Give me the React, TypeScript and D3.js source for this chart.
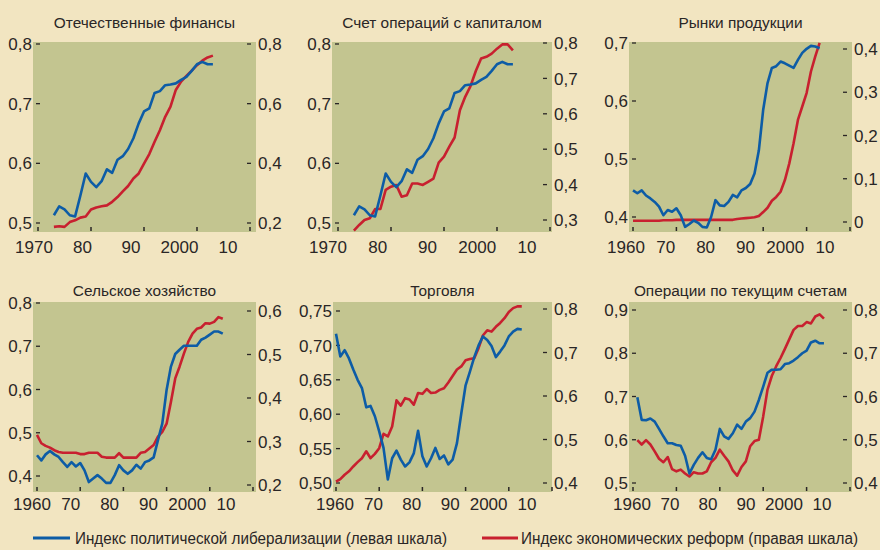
import * as d3 from "d3";

// ── данные: индексы по годам ──
const YEARS_73 = d3.range(1973, 2004);
const YEARS_60 = d3.range(1960, 2004);
const YEARS_61 = d3.range(1961, 2005);

// политическая либерализация (одна и та же серия в двух верхних левых панелях)
const POL_FIN = [
  0.513, 0.528, 0.523, 0.513, 0.511, 0.546, 0.583, 0.569, 0.560, 0.570,
  0.590, 0.584, 0.606, 0.612, 0.624, 0.642, 0.667, 0.687, 0.692, 0.718,
  0.721, 0.731, 0.732, 0.734, 0.740, 0.745, 0.755, 0.766, 0.770, 0.766, 0.766
];
const ECON_FIN = [
  0.187, 0.189, 0.187, 0.203, 0.209, 0.218, 0.222, 0.245, 0.252, 0.256,
  0.259, 0.271, 0.287, 0.306, 0.324, 0.349, 0.366, 0.399, 0.431, 0.472,
  0.511, 0.556, 0.590, 0.646, 0.674, 0.693, 0.711, 0.729, 0.744, 0.755, 0.761
];
const ECON_CAP = [
  0.270, 0.286, 0.300, 0.305, 0.331, 0.331, 0.385, 0.394, 0.399, 0.366,
  0.370, 0.403, 0.403, 0.399, 0.408, 0.417, 0.462, 0.479, 0.507, 0.533,
  0.610, 0.648, 0.678, 0.721, 0.756, 0.761, 0.770, 0.784, 0.796, 0.796, 0.779
];
const POL_PROD = [
  0.446, 0.441, 0.446, 0.437, 0.432, 0.426, 0.418, 0.403, 0.412, 0.409,
  0.415, 0.403, 0.383, 0.388, 0.394, 0.390, 0.383, 0.382, 0.400, 0.429,
  0.420, 0.419, 0.426, 0.438, 0.434, 0.446, 0.450, 0.457, 0.475, 0.515,
  0.585, 0.631, 0.657, 0.660, 0.668, 0.665, 0.661, 0.657, 0.671, 0.683,
  0.690, 0.695, 0.694, 0.691
];
const ECON_PROD = [
  0.003, 0.003, 0.003, 0.003, 0.003, 0.003, 0.003, 0.004, 0.004, 0.004,
  0.005, 0.005, 0.005, 0.005, 0.005, 0.005, 0.005, 0.005, 0.005, 0.005,
  0.005, 0.005, 0.005, 0.005, 0.007, 0.008, 0.009, 0.010, 0.011, 0.014,
  0.023, 0.033, 0.049, 0.058, 0.070, 0.097, 0.135, 0.182, 0.236, 0.267,
  0.298, 0.348, 0.383, 0.414
];
const POL_AGR = [
  0.448, 0.436, 0.450, 0.458, 0.450, 0.444, 0.432, 0.421, 0.432, 0.422,
  0.430, 0.413, 0.386, 0.394, 0.402, 0.394, 0.384, 0.384, 0.402, 0.425,
  0.413, 0.405, 0.413, 0.426, 0.417, 0.432, 0.436, 0.443, 0.483, 0.521,
  0.599, 0.653, 0.682, 0.692, 0.701, 0.701, 0.701, 0.701, 0.715, 0.720,
  0.727, 0.734, 0.734, 0.729
];
const ECON_AGR = [
  0.315, 0.296, 0.290, 0.286, 0.280, 0.276, 0.274, 0.274, 0.274, 0.274,
  0.271, 0.271, 0.274, 0.274, 0.274, 0.265, 0.263, 0.263, 0.263, 0.273,
  0.263, 0.263, 0.263, 0.263, 0.274, 0.276, 0.284, 0.292, 0.311, 0.322,
  0.341, 0.391, 0.445, 0.472, 0.502, 0.529, 0.548, 0.559, 0.562, 0.572,
  0.571, 0.575, 0.586, 0.582
];
const POL_TRADE = [
  0.717, 0.684, 0.693, 0.681, 0.665, 0.650, 0.638, 0.610, 0.612, 0.597,
  0.575, 0.551, 0.505, 0.536, 0.547, 0.534, 0.524, 0.530, 0.543, 0.576,
  0.539, 0.524, 0.536, 0.551, 0.535, 0.540, 0.527, 0.534, 0.558, 0.601,
  0.642, 0.662, 0.683, 0.700, 0.713, 0.708, 0.699, 0.683, 0.691, 0.700,
  0.713, 0.720, 0.724, 0.723
];
const ECON_TRADE = [
  0.403, 0.409, 0.419, 0.427, 0.438, 0.448, 0.457, 0.473, 0.457, 0.467,
  0.480, 0.513, 0.507, 0.530, 0.590, 0.578, 0.595, 0.592, 0.580, 0.607,
  0.605, 0.616, 0.607, 0.608, 0.614, 0.618, 0.631, 0.646, 0.661, 0.668,
  0.682, 0.685, 0.687, 0.710, 0.739, 0.751, 0.748, 0.759, 0.768, 0.779,
  0.793, 0.802, 0.806, 0.806
];
const POL_CUR = [
  0.698, 0.646, 0.645, 0.649, 0.642, 0.625, 0.608, 0.592, 0.592, 0.588,
  0.586, 0.563, 0.522, 0.542, 0.558, 0.571, 0.558, 0.555, 0.577, 0.625,
  0.608, 0.602, 0.615, 0.635, 0.625, 0.642, 0.650, 0.665, 0.692, 0.723,
  0.755, 0.762, 0.762, 0.763, 0.775, 0.777, 0.783, 0.791, 0.800, 0.806,
  0.825, 0.829, 0.823, 0.823
];
const ECON_CUR = [
  0.499, 0.489, 0.499, 0.489, 0.473, 0.456, 0.448, 0.460, 0.432, 0.427,
  0.431, 0.422, 0.415, 0.425, 0.422, 0.422, 0.427, 0.448, 0.458, 0.477,
  0.463, 0.450, 0.429, 0.417, 0.437, 0.450, 0.485, 0.497, 0.500, 0.554,
  0.616, 0.648, 0.670, 0.689, 0.710, 0.732, 0.754, 0.763, 0.763, 0.772,
  0.769, 0.785, 0.790, 0.780
];

const TICKS_70 = [1970, 1980, 1990, 2000, 2010];
const TICKS_60 = [1960, 1970, 1980, 1990, 2000, 2010];
const TICK_LABELS_70 = ["1970", "80", "90", "2000", "10"];
const TICK_LABELS_60 = ["1960", "70", "80", "90", "2000", "10"];

const TITLES = [
  "Отечественные финансы",
  "Счет операций с капиталом",
  "Рынки продукции",
  "Сельское хозяйство",
  "Торговля",
  "Операции по текущим счетам"
];
const LEGEND = [
  "Индекс политической либерализации (левая шкала)",
  "Индекс экономических реформ (правая шкала)"
];

const BG = "#f2e5c1";
const PLOT_BG = "#c3c590";
const BLUE = "#0d5ca6";
const RED = "#c8202f";
const INK = "#2a2626";
const FONT = "'Liberation Sans', Arial, sans-serif";
const NARROW = "'Liberation Sans Narrow', 'Arial Narrow', 'Liberation Sans', sans-serif";

interface PanelCfg {
  title: string;
  x: number; y: number; w: number; h: number;
  titleY: number;
  labelY: number;
  years: number[];
  pol: number[];
  econ: number[];
  ticks: number[];
  tickLabels: string[];
  xr: [number, number];       // позиции крайних рисок
  xl: [number, number];       // позиции крайних подписей
  left: number[];  leftR: [number, number];
  right: number[]; rightR: [number, number];
  leftFmt: string;
}

const PANELS: PanelCfg[] = [
  {
    title: TITLES[0], x: 33, y: 42, w: 223, h: 190, titleY: 28, labelY: 21,
    years: YEARS_73, pol: POL_FIN, econ: ECON_FIN,
    ticks: TICKS_70, tickLabels: TICK_LABELS_70, xr: [5, 217], xl: [1, 195],
    left: [0.5, 0.6, 0.7, 0.8], leftR: [181, 2],
    right: [0.2, 0.4, 0.6, 0.8], rightR: [181, 2], leftFmt: ".1f"
  },
  {
    title: TITLES[1], x: 332, y: 42, w: 220, h: 190, titleY: 28, labelY: 21,
    years: YEARS_73, pol: POL_FIN, econ: ECON_CAP,
    ticks: TICKS_70, tickLabels: TICK_LABELS_70, xr: [6, 218], xl: [-4, 195],
    left: [0.5, 0.6, 0.7, 0.8], leftR: [181, 2],
    right: [0.3, 0.4, 0.5, 0.6, 0.7, 0.8], rightR: [178, 1], leftFmt: ".1f"
  },
  {
    title: TITLES[2], x: 629, y: 42, w: 223, h: 190, titleY: 28, labelY: 21,
    years: YEARS_60, pol: POL_PROD, econ: ECON_PROD,
    ticks: TICKS_60, tickLabels: TICK_LABELS_60, xr: [4, 221], xl: [-3, 196],
    left: [0.4, 0.5, 0.6, 0.7], leftR: [175, 1],
    right: [0, 0.1, 0.2, 0.3, 0.4], rightR: [180, 7], leftFmt: ".1f"
  },
  {
    title: TITLES[3], x: 33, y: 302, w: 223, h: 190, titleY: 296, labelY: 18,
    years: YEARS_60, pol: POL_AGR, econ: ECON_AGR,
    ticks: TICKS_60, tickLabels: TICK_LABELS_60, xr: [4, 220], xl: [-1, 193],
    left: [0.4, 0.5, 0.6, 0.7, 0.8], leftR: [174, 1],
    right: [0.2, 0.3, 0.4, 0.5, 0.6], rightR: [183, 9], leftFmt: ".1f"
  },
  {
    title: TITLES[4], x: 333, y: 302, w: 219, h: 190, titleY: 296, labelY: 18,
    years: YEARS_60, pol: POL_TRADE, econ: ECON_TRADE,
    ticks: TICKS_60, tickLabels: TICK_LABELS_60, xr: [3, 219], xl: [2, 194],
    left: [0.5, 0.55, 0.6, 0.65, 0.7, 0.75], leftR: [181, 9],
    right: [0.4, 0.5, 0.6, 0.7, 0.8], rightR: [181, 7], leftFmt: ".2f"
  },
  {
    title: TITLES[5], x: 629, y: 302, w: 223, h: 190, titleY: 296, labelY: 18,
    years: YEARS_61, pol: POL_CUR, econ: ECON_CUR,
    ticks: TICKS_60, tickLabels: TICK_LABELS_60, xr: [4, 221], xl: [3, 193],
    left: [0.5, 0.6, 0.7, 0.8, 0.9], leftR: [181, 8],
    right: [0.4, 0.5, 0.6, 0.7, 0.8], rightR: [181, 8], leftFmt: ".1f"
  }
];

const comma = (f: string) => (v: number) => v === 0 ? "0" : d3.format(f)(v).replace(".", ",");

function Panel({ p }: { p: PanelCfg }) {
  const first = p.ticks[0], last = p.ticks[p.ticks.length - 1];
  const x = d3.scaleLinear().domain([first, last]).range(p.xr);
  const xLab = d3.scaleLinear().domain([first, last]).range(p.xl);
  const yL = d3.scaleLinear().domain([p.left[0], p.left[p.left.length - 1]]).range(p.leftR);
  const yR = d3.scaleLinear().domain([p.right[0], p.right[p.right.length - 1]]).range(p.rightR);
  const fmtL = comma(p.leftFmt);
  const fmtR = comma(".1f");

  const polLine = d3.line<number>().x((_, i) => x(p.years[i])).y((d) => yL(d));
  const econLine = d3.line<number>().x((_, i) => x(p.years[i])).y((d) => yR(d));

  return (
    <g transform={`translate(${p.x},${p.y})`}>
      <text x={p.w / 2} y={p.titleY - p.y} textAnchor="middle" fontSize={15.4} fill={INK} fontFamily={FONT}>
        {p.title}
      </text>
      <rect width={p.w} height={p.h} fill={PLOT_BG} />
      {p.ticks.map((t) => (
        <line key={t} x1={x(t)} x2={x(t)} y1={p.h - 1} y2={p.h - 5} stroke={INK} strokeWidth={1.5} />
      ))}
      {p.left.map((v) => (
        <g key={"l" + v}>
          <line x1={3} x2={7} y1={yL(v)} y2={yL(v)} stroke={INK} strokeWidth={1.3} />
          <text x={-1} y={yL(v)} dy="0.36em" textAnchor="end" fontSize={17} fill={INK} fontFamily={FONT}>
            {fmtL(v)}
          </text>
        </g>
      ))}
      {p.right.map((v) => (
        <g key={"r" + v}>
          <line x1={p.w - 9} x2={p.w - 5} y1={yR(v)} y2={yR(v)} stroke={INK} strokeWidth={1.3} />
          <text x={p.w + 2} y={yR(v)} dy="0.36em" textAnchor="start" fontSize={17} fill={INK} fontFamily={FONT}>
            {fmtR(v)}
          </text>
        </g>
      ))}
      {p.tickLabels.map((l, i) => (
        <text key={l} x={xLab(p.ticks[i])} y={p.h + p.labelY} textAnchor="middle" fontSize={17} fill={INK} fontFamily={NARROW}>
          {l}
        </text>
      ))}
      <path d={econLine(p.econ) ?? ""} fill="none" stroke={RED} strokeWidth={2.6} strokeLinejoin="round" />
      <path d={polLine(p.pol) ?? ""} fill="none" stroke={BLUE} strokeWidth={2.6} strokeLinejoin="round" />
    </g>
  );
}

export default function App() {
  return (
    <svg width={880} height={550} style={{ position: "absolute", left: 0, top: 0, display: "block" }}>
      <rect width={880} height={550} fill={BG} />
      {PANELS.map((p) => <Panel key={p.title} p={p} />)}
      <g fontFamily={FONT} fontSize={16} fill={INK}>
        <line x1={33} x2={70} y1={538} y2={538} stroke={BLUE} strokeWidth={3} />
        <text x={75} y={544} textLength={372} lengthAdjust="spacingAndGlyphs">{LEGEND[0]}</text>
        <line x1={482} x2={518} y1={538} y2={538} stroke={RED} strokeWidth={3} />
        <text x={521} y={544} textLength={337} lengthAdjust="spacingAndGlyphs">{LEGEND[1]}</text>
      </g>
    </svg>
  );
}
